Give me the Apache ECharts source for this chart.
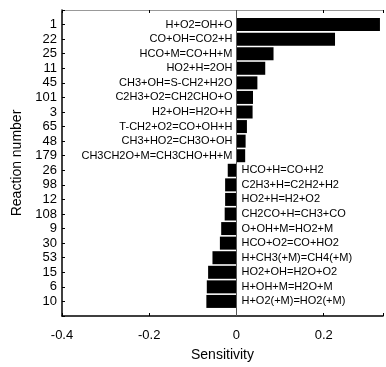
<!DOCTYPE html>
<html>
<head>
<meta charset="utf-8">
<script src="https://cdn.jsdelivr.net/npm/echarts@6/dist/echarts.min.js"></script>
<style>html,body{margin:0;padding:0;background:#fff;}#c{width:386px;height:367px;}</style>
</head>
<body>
<div id="c"></div>
<script>
const reactions = ['1','22','25','11','45','101','3','65','48','179','26','98','12','108','9','30','53','15','6','10'];
const sensitivity = [0.329,0.226,0.085,0.066,0.048,0.038,0.037,0.024,0.021,0.020,-0.020,-0.026,-0.026,-0.027,-0.035,-0.038,-0.055,-0.065,-0.068,-0.069];
const equations = ['H+O2=OH+O','CO+OH=CO2+H','HCO+M=CO+H+M','HO2+H=2OH','CH3+OH=S-CH2+H2O','C2H3+O2=CH2CHO+O','H2+OH=H2O+H','T-CH2+O2=CO+OH+H','CH3+HO2=CH3O+OH','CH3CH2O+M=CH3CHO+H+M','HCO+H=CO+H2','C2H3+H=C2H2+H2','HO2+H=H2+O2','CH2CO+H=CH3+CO','O+OH+M=HO2+M','HCO+O2=CO+HO2','H+CH3(+M)=CH4(+M)','HO2+OH=H2O+O2','H+OH+M=H2O+M','H+O2(+M)=HO2(+M)'];
const xTicks = [-0.4,-0.2,0,0.2];

const cats = [''].concat(reactions, ['']);
const data = ['-'].concat(sensitivity.map((v,i)=>({
  value: v,
  label: {show:true, position: v>=0 ? 'left' : 'right', distance: v>=0 ? 4 : 5, formatter: equations[i]}
})), ['-']);

const font = 'Arial, "Liberation Sans", sans-serif';
const chart = echarts.init(document.getElementById('c'), null, {renderer:'canvas'});
chart.setOption({
  animation:false,
  backgroundColor:'#fff',
  grid:{left:62, top:10, right:1, bottom:41, containLabel:false},
  xAxis:[{
    type:'value', position:'bottom', min:-0.4, max:0.336, interval:0.2,
    axisLine:{show:true, onZero:false, lineStyle:{color:'#000', width:1.5}},
    axisTick:{show:true, inside:true, length:3, lineStyle:{color:'#000'}},
    axisLabel:{color:'#000', fontSize:13, fontFamily:font, margin:13,
      formatter: v => xTicks.some(t=>Math.abs(t-v)<1e-9) ? String(Math.round(v*10)/10) : ''},
    splitLine:{show:false},
    name:'Sensitivity', nameLocation:'middle', nameGap:32,
    nameTextStyle:{color:'#000', fontSize:14, fontFamily:font}
  },{
    type:'value', position:'top', min:-0.4, max:0.336, interval:0.2,
    axisLine:{show:true, onZero:false, lineStyle:{color:'#999', width:1}},
    axisTick:{show:true, inside:true, length:3, lineStyle:{color:'#000'}},
    axisLabel:{show:false}, splitLine:{show:false}
  }],
  yAxis:{
    type:'category', data:cats, inverse:true, boundaryGap:false,
    axisLine:{show:true, onZero:false, lineStyle:{color:'#000', width:1.5}},
    axisTick:{show:true, inside:true, length:3, lineStyle:{color:'#000'}},
    axisLabel:{color:'#000', fontSize:13, fontFamily:font, margin:5, interval:0},
    splitLine:{show:false},
    name:'Reaction number', nameLocation:'middle', nameGap:35,
    nameTextStyle:{color:'#000', fontSize:14, fontFamily:font}
  },
  series:[{
    type:'bar', data:data, barWidth:13, xAxisIndex:0,
    itemStyle:{color:'#000'},
    label:{color:'#000', fontSize:11, fontFamily:font},
    markLine:{silent:true, symbol:'none', label:{show:false},
      lineStyle:{color:'#555', type:'solid', width:1},
      data:[{xAxis:0}]}
  }]
});
</script>
</body>
</html>
